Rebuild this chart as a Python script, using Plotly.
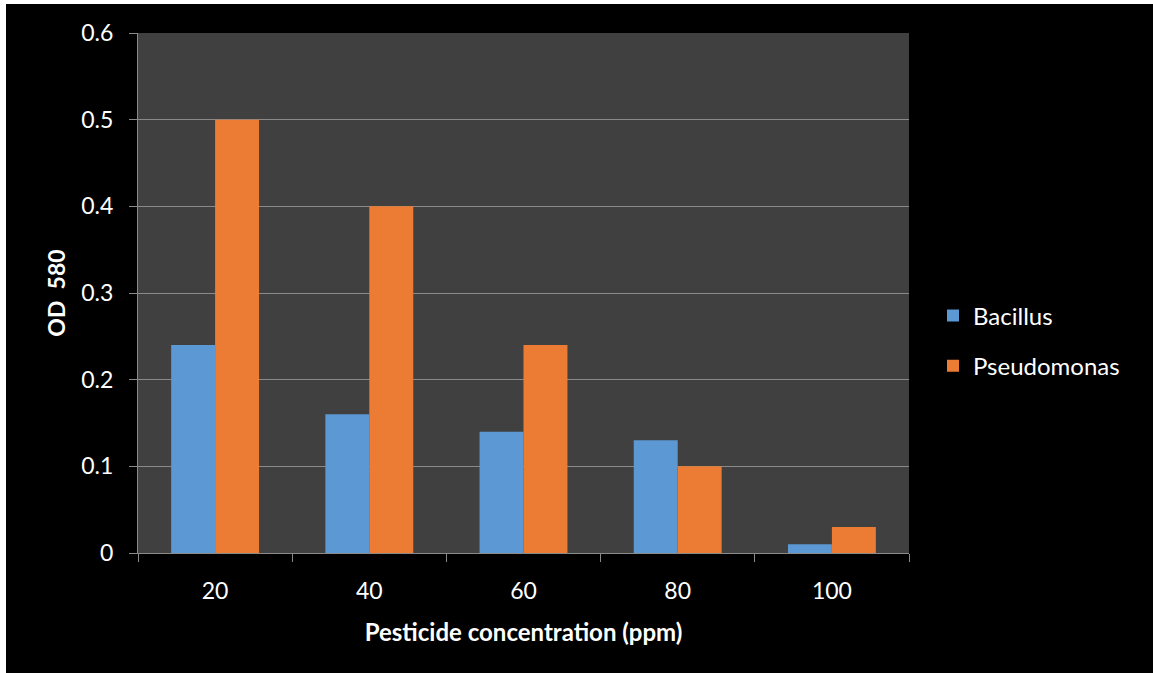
import plotly.graph_objects as go

categories = ["20", "40", "60", "80", "100"]
bacillus = [0.24, 0.16, 0.14, 0.13, 0.01]
pseudomonas = [0.50, 0.40, 0.24, 0.10, 0.03]
y_ticks = [0, 0.1, 0.2, 0.3, 0.4, 0.5, 0.6]
y_tick_text = ["0", "0.1", "0.2", "0.3", "0.4", "0.5", "0.6"]

W, H = 1153, 673
L, R, T, B = 138, 244, 33, 120
pw, ph = W - L - R, H - T - B

FONT = "Lato"

fig = go.Figure()
fig.add_trace(go.Bar(name="Bacillus", x=categories, y=bacillus,
                     marker=dict(color="#5b98d4", line=dict(width=0)),
                     legendgroup="a"))
fig.add_trace(go.Bar(name="Pseudomonas", x=categories, y=pseudomonas,
                     marker=dict(color="#ec7c33", line=dict(width=0)),
                     legendgroup="b"))

def px(p):
    return (p - L) / pw

def py(p):
    return (H - B - p) / ph

# white strips at top and left edges of the picture
fig.add_shape(type="rect", xref="paper", yref="paper",
              x0=px(0), x1=px(6), y0=py(H), y1=py(0),
              fillcolor="white", line=dict(width=0), layer="above")
fig.add_shape(type="rect", xref="paper", yref="paper",
              x0=px(0), x1=px(W), y0=py(4), y1=py(0),
              fillcolor="white", line=dict(width=0), layer="above")

fig.update_layout(
    width=W, height=H,
    margin=dict(l=L, r=R, t=T, b=B, pad=0),
    paper_bgcolor="black",
    plot_bgcolor="#404040",
    barmode="group",
    bargap=0.43,
    bargroupgap=0,
    font=dict(family=FONT, color="white", size=23),
    legend=dict(x=px(933), y=py(341), xanchor="left", yanchor="middle",
                font=dict(family=FONT, size=24, color="white"),
                traceorder="grouped", tracegroupgap=16,
                bgcolor="rgba(0,0,0,0)"),
    xaxis=dict(
        type="category",
        showline=True, linecolor="#8a8a8a", linewidth=1,
        ticks="outside", ticklen=8, tickcolor="#8a8a8a", tickwidth=1,
        tickson="boundaries",
        ticklabelstandoff=17,
        tickfont=dict(family=FONT, size=23, color="white"),
        showgrid=False,
        title=dict(text="<b>Pesticide concentration (ppm)</b>",
                   font=dict(family=FONT, size=24, color="white"),
                   standoff=21),
        mirror=False,
    ),
    yaxis=dict(
        range=[0, 0.6],
        tickvals=y_ticks, ticktext=y_tick_text,
        showline=True, linecolor="#8a8a8a", linewidth=1,
        ticks="outside", ticklen=8, tickcolor="#8a8a8a", tickwidth=1,
        ticklabelstandoff=11,
        tickfont=dict(family=FONT, size=23, color="white"),
        showgrid=True, gridcolor="#8a8a8a", gridwidth=1,
        zeroline=False,
        title=dict(text="<b>OD\u00a0\u00a0580</b>",
                   font=dict(family=FONT, size=23, color="white"),
                   standoff=9),
    ),
)

fig.write_html(
    "out.html",
    config={"displayModeBar": False},
    post_script=(
        "document.documentElement.style.background='black';"
        "document.body.style.background='black';"
        "document.body.style.margin='0';document.body.style.padding='0';"
        "document.body.style.overflow='hidden';"
    ),
)
